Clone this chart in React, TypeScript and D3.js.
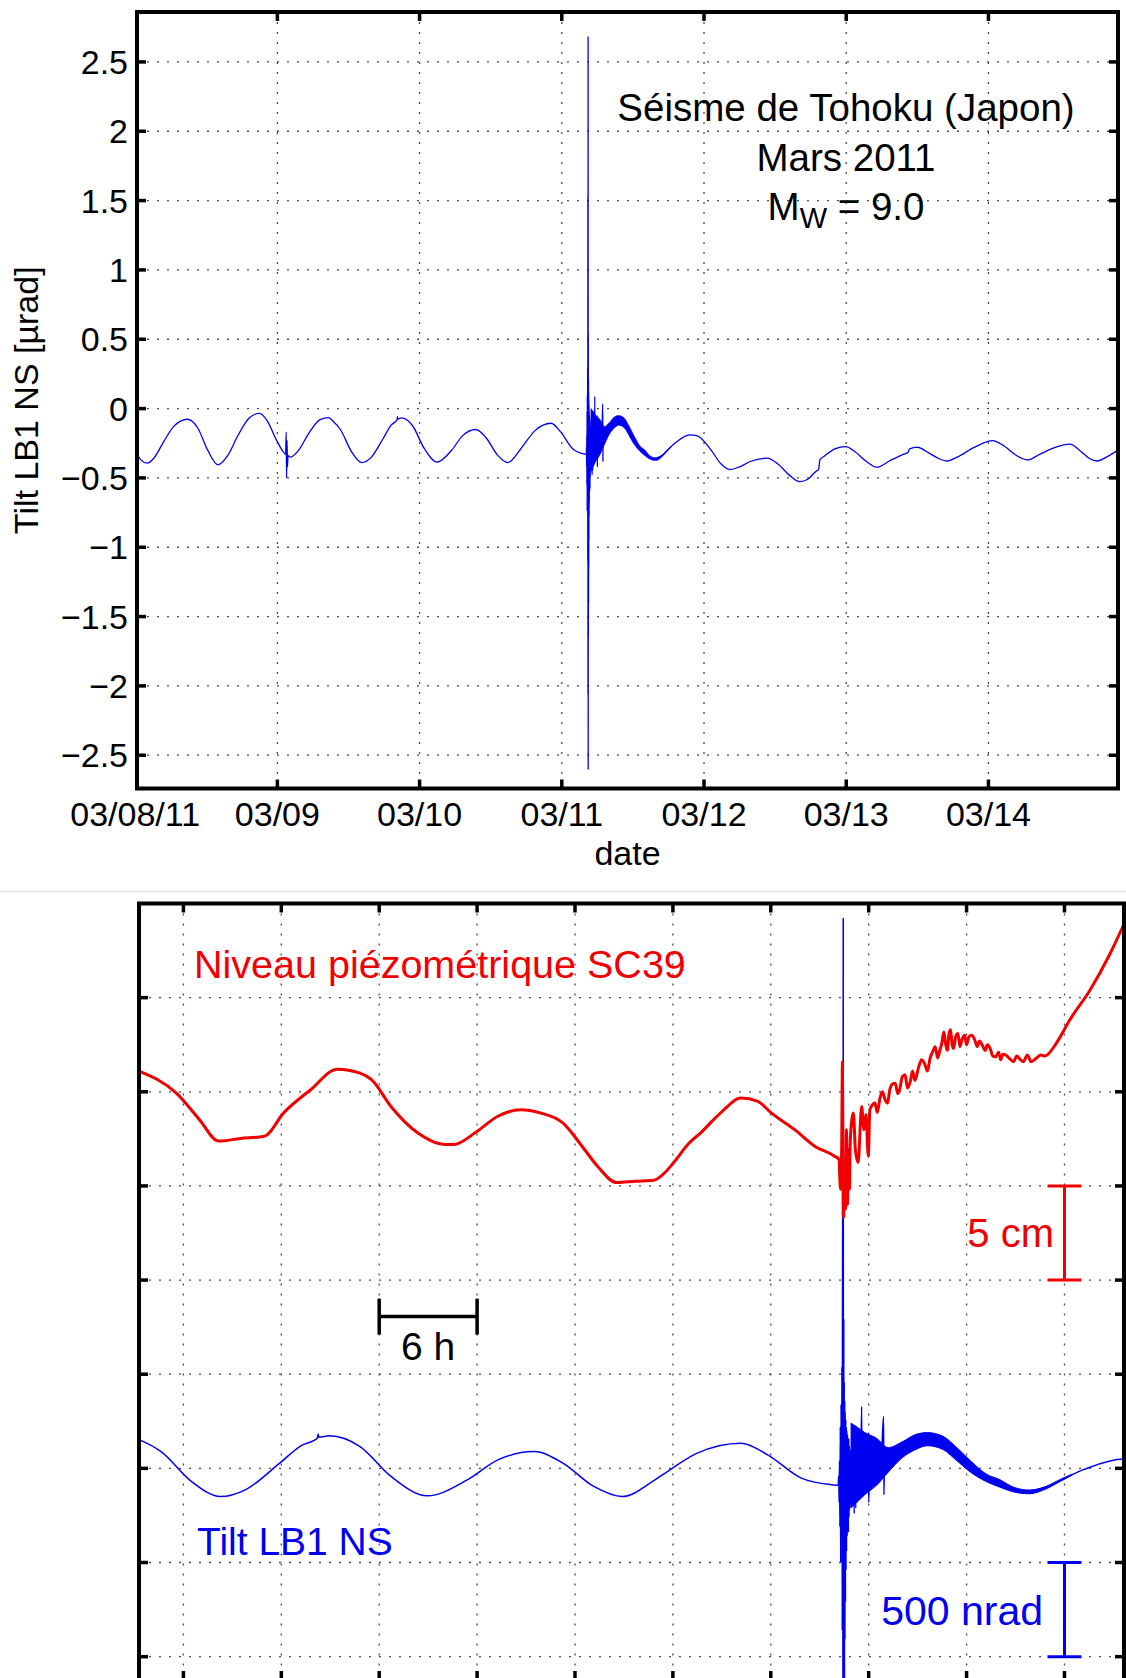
import React from 'react';
import * as d3 from 'd3';

const FONT = '"Liberation Sans", Arial, Helvetica, sans-serif';

// ---------- TOP PANEL: axes ----------
// time in days since 03/08/2011 00:00
const dayTicks = [0, 1, 2, 3, 4, 5, 6];
const dayLabels = ['03/08/11', '03/09', '03/10', '03/11', '03/12', '03/13', '03/14'];
const tiltTicks = [-2.5, -2, -1.5, -1, -0.5, 0, 0.5, 1, 1.5, 2, 2.5];
const tiltTickLabels = ['\u22122.5', '\u22122', '\u22121.5', '\u22121', '\u22120.5', '0', '0.5', '1', '1.5', '2', '2.5'];

// ---------- Tilt LB1 NS (µrad) : [day, value] ----------
const tideBefore: [number, number][] = [
  [0.013, -0.33], [0.04, -0.37], [0.085, -0.394], [0.13, -0.36], [0.2, -0.24], [0.27, -0.13],
  [0.368, -0.077], [0.44, -0.14], [0.51, -0.3], [0.583, -0.406], [0.65, -0.34], [0.72, -0.2],
  [0.8, -0.07], [0.874, -0.034], [0.93, -0.09], [0.99, -0.22], [1.04, -0.31],
  [1.058, -0.33], [1.062, -0.17], [1.065, -0.5], [1.068, -0.23], [1.071, -0.42], [1.075, -0.34],
  [1.094, -0.35], [1.15, -0.3], [1.22, -0.18], [1.3, -0.08], [1.36, -0.065], [1.39, -0.09],
  [1.443, -0.151], [1.521, -0.31], [1.595, -0.39], [1.658, -0.354], [1.746, -0.212], [1.8, -0.12],
  [1.842, -0.08], [1.844, -0.058], [1.846, -0.075], [1.873, -0.067], [1.951, -0.124], [2.03, -0.283],
  [2.123, -0.386], [2.225, -0.301], [2.303, -0.195], [2.396, -0.151], [2.469, -0.212], [2.548, -0.336],
  [2.621, -0.39], [2.704, -0.301], [2.735, -0.258], [2.812, -0.159], [2.924, -0.106], [2.992, -0.168],
  [3.078, -0.292], [3.155, -0.327], [3.17, -0.33],
];

const quakeBurst: [number, number][] = [
  [3.172, -0.33], [3.1735, -0.28], [3.1745, -0.42], [3.1755, -0.2], [3.1765, -0.55], [3.1775, -0.02],
  [3.1785, -0.74], [3.1795, 0.1], [3.1805, -0.62], [3.1815, 0.3], [3.1825, -1.1], [3.1835, 1.53],
  [3.1842, -2.06], [3.185, 2.68], [3.1857, -2.6], [3.1864, 0.55], [3.187, -1.65], [3.1876, 0.22],
  [3.1882, -1.4], [3.1888, 0.12], [3.1894, -1.15], [3.19, 0.06], [3.1907, -0.95], [3.1914, 0.02],
  [3.1921, -0.78], [3.1928, -0.02], [3.1935, -0.68], [3.1942, -0.04], [3.195, -0.6], [3.1958, -0.06],
  [3.1966, -0.56], [3.1974, -0.1], [3.1982, -0.58], [3.199, -0.08], [3.1998, -0.5], [3.2006, -0.12],
  [3.2015, -0.46], [3.2024, -0.16], [3.2033, -0.44], [3.2042, -0.14], [3.2052, -0.4], [3.2062, -0.18],
  [3.2072, -0.38], [3.2085, -0.2], [3.21, -0.42], [3.2115, -0.1], [3.213, -0.48], [3.215, -0.05],
  [3.217, -0.45], [3.219, -0.08], [3.221, -0.42], [3.223, -0.1], [3.225, -0.38], [3.227, -0.14],
  [3.229, -0.35], [3.232, 0.088], [3.233, -0.36], [3.236, -0.15], [3.239, -0.33], [3.242, -0.18],
  [3.245, -0.32], [3.249, -0.05], [3.25, -0.42], [3.253, -0.18], [3.257, -0.3], [3.262, -0.16],
  [3.267, -0.3], [3.272, -0.17], [3.278, -0.28], [3.283, -0.16], [3.288, 0.035], [3.289, -0.38],
  [3.29, -0.23],
];

const tideAfter: [number, number][] = [
  [3.292, -0.22], [3.335, -0.142], [3.403, -0.089], [3.446, -0.106], [3.506, -0.23], [3.575, -0.31],
  [3.643, -0.363], [3.695, -0.345], [3.797, -0.248], [3.9, -0.19], [3.95, -0.195], [4.05, -0.3],
  [4.12, -0.4], [4.183, -0.44], [4.25, -0.42], [4.33, -0.38], [4.442, -0.358], [4.52, -0.4],
  [4.6, -0.48], [4.674, -0.527], [4.73, -0.51], [4.79, -0.45], [4.805, -0.44], [4.815, -0.37],
  [4.85, -0.34], [4.92, -0.29], [4.997, -0.274], [5.06, -0.31], [5.14, -0.38], [5.217, -0.423],
  [5.3, -0.38], [5.4, -0.33], [5.435, -0.315], [5.445, -0.29], [5.5, -0.279], [5.58, -0.32],
  [5.65, -0.36], [5.707, -0.378], [5.78, -0.35], [5.9, -0.28], [6.03, -0.231], [6.11, -0.27],
  [6.2, -0.34], [6.275, -0.37], [6.36, -0.33], [6.47, -0.28], [6.573, -0.257], [6.64, -0.3],
  [6.71, -0.36], [6.767, -0.378], [6.83, -0.35], [6.911, -0.3],
];

// post-seismic noisy band: [day, low, high] (µrad)
const noiseBand: [number, number, number][] = [
  [3.205, -0.45, 0.0], [3.22, -0.42, -0.02], [3.24, -0.38, -0.05], [3.27, -0.33, -0.08],
  [3.3, -0.26, -0.13], [3.335, -0.185, -0.1], [3.37, -0.14, -0.06], [3.4, -0.12, -0.05],
  [3.44, -0.14, -0.07], [3.47, -0.19, -0.12], [3.51, -0.26, -0.2], [3.55, -0.31, -0.27],
  [3.585, -0.34, -0.3], [3.62, -0.365, -0.34], [3.66, -0.375, -0.355], [3.7, -0.352, -0.338],
  [3.74, -0.308, -0.298], [3.77, -0.275, -0.27],
];

// ---------- Niveau piézométrique SC39 (cm, relative) : [day, cm] ----------
const pressureLevel: [number, number][] = [
  [1.387, 6.1], [1.482, 4.93], [1.541, 3.52], [1.59, 2.38], [1.645, 2.52], [1.707, 2.64],
  [1.756, 3.88], [1.825, 5.11], [1.893, 6.2], [1.951, 5.99], [1.981, 5.63], [2.03, 4.22],
  [2.098, 2.82], [2.167, 2.2], [2.191, 2.2], [2.245, 2.82], [2.303, 3.7], [2.362, 4.05],
  [2.411, 3.88], [2.469, 3.35], [2.518, 2.11], [2.557, 1.06], [2.606, 0.18], [2.655, 0.25],
  [2.701, 0.3], [2.733, 0.78], [2.752, 1.24], [2.792, 2.29], [2.821, 2.82], [2.872, 3.88],
  [2.924, 4.67], [2.967, 4.49], [3.001, 3.88], [3.061, 2.99], [3.112, 2.11], [3.163, 1.58],
  [3.174, 1.41], [3.178, -0.17], [3.181, 1.93], [3.183, 6.6], [3.185, -1.49], [3.186, -1.67],
  [3.188, 0.88], [3.191, -1.23], [3.193, 2.99], [3.196, -0.97], [3.198, 1.93], [3.201, -0.17],
  [3.203, 2.46], [3.211, 3.88], [3.216, 1.93], [3.223, 1.24], [3.232, 4.22], [3.238, 2.99],
  [3.243, 3.79], [3.249, 1.58], [3.253, 4.05], [3.266, 4.4], [3.272, 3.9], [3.279, 4.68],
  [3.285, 5.0], [3.292, 4.57], [3.298, 4.4], [3.304, 5.11], [3.31, 5.4], [3.318, 5.46],
  [3.324, 4.9], [3.33, 5.21], [3.336, 5.8], [3.343, 5.9], [3.349, 5.2], [3.356, 5.53],
  [3.362, 6.1], [3.368, 5.6], [3.378, 6.34], [3.385, 6.7], [3.394, 6.43], [3.4, 6.1],
  [3.407, 6.8], [3.413, 7.1], [3.42, 7.39], [3.426, 6.8], [3.432, 7.22], [3.437, 7.6],
  [3.442, 8.18], [3.447, 7.48], [3.451, 7.2], [3.455, 8.06], [3.459, 8.3], [3.463, 7.53],
  [3.467, 7.3], [3.472, 7.92], [3.478, 8.1], [3.483, 7.4], [3.488, 7.75], [3.495, 8.0],
  [3.5, 7.5], [3.506, 7.92], [3.513, 8.0], [3.521, 7.75], [3.527, 7.4], [3.533, 7.7],
  [3.54, 7.48], [3.548, 7.2], [3.553, 7.5], [3.56, 7.32], [3.567, 6.9], [3.574, 6.86],
  [3.582, 7.1], [3.587, 6.7], [3.593, 7.0], [3.6, 6.95], [3.609, 6.78], [3.62, 6.6],
  [3.628, 6.9], [3.636, 6.74], [3.645, 6.6], [3.655, 6.95], [3.665, 6.6], [3.678, 6.78],
  [3.69, 6.95], [3.7, 6.9], [3.729, 7.57], [3.763, 8.8], [3.815, 10.39], [3.866, 12.32],
  [3.902, 13.91],
];

// ---------- BOTTOM PANEL: grid ----------
const sixHourTicks = [1.5, 1.75, 2, 2.25, 2.5, 2.75, 3, 3.25, 3.5, 3.75];
const bottomGridUnits = [-1, -0.5, 0, 0.5, 1, 1.5, 2, 2.5];
const TILT_SHIFT = 0.24; // µrad offset of tilt trace in lower panel
const CM_PER_UNIT = 10; // 5 cm per grid step of 0.5
const LEVEL_SHIFT = 1.5;
const timeBar = [2.0, 2.25]; // 6 h
const timeBarUnit = 0.806;
const levelBar = [0, -5]; // 5 cm
const tiltBar = [-1.24, -0.74]; // 500 nrad
const barTime = 3.75;

const BLUE = '#0000f0';
const RED = '#f00000';

export default function App() {
  // top panel scales
  const xTop = d3.scaleLinear().domain([0.013, 6.911]).range([137, 1118]);
  const yTop = d3.scaleLinear().domain([-2.74, 2.86]).range([788.5, 12]);
  // bottom panel scales
  const xBot = d3.scaleLinear().domain([1.3866, 3.902]).range([139, 1124]);
  const yBot = d3.scaleLinear().domain([-1.124, 3.0]).range([1680, 903.5]);
  const yTiltB = (v: number) => yBot(v + TILT_SHIFT);
  const yLevel = (cm: number) => yBot(cm / CM_PER_UNIT + LEVEL_SHIFT);

  const tilt = d3.sort([...tideBefore, ...quakeBurst, ...tideAfter], d => d[0]);
  const level = d3.sort(pressureLevel, d => d[0]);

  const lineTop = d3.line<[number, number]>().x(d => xTop(d[0])).y(d => yTop(d[1])).curve(d3.curveMonotoneX);
  const areaTop = d3.area<[number, number, number]>().x(d => xTop(d[0])).y0(d => yTop(d[1])).y1(d => yTop(d[2])).curve(d3.curveMonotoneX);
  const lineBotTilt = d3.line<[number, number]>().x(d => xBot(d[0])).y(d => yTiltB(d[1])).curve(d3.curveMonotoneX);
  const areaBot = d3.area<[number, number, number]>().x(d => xBot(d[0])).y0(d => yTiltB(d[1])).y1(d => yTiltB(d[2])).curve(d3.curveMonotoneX);
  const lineLevel = d3.line<[number, number]>().x(d => xBot(d[0])).y(d => yLevel(d[1])).curve(d3.curveMonotoneX);

  const tX0 = xTop.range()[0], tX1 = xTop.range()[1];
  const tY0 = yTop.range()[1], tY1 = yTop.range()[0];
  const bX0 = xBot.range()[0], bX1 = xBot.range()[1];
  const bY0 = yBot.range()[1], bY1 = yBot.range()[0];

  const grid = { stroke: '#4a4a4a', strokeWidth: 1.3, strokeDasharray: '2,8' };
  const tickW = 3.5, tickL = 9;
  const tb = yBot(timeBarUnit);

  return (
    <>
      <style>{`body{margin:0;background:#fff}`}</style>
      <svg width={1126} height={1678} style={{ position: 'absolute', left: 0, top: 0, background: '#fff' }} fontFamily={FONT}>
        <defs>
          <clipPath id="clipTop"><rect x={tX0} y={tY0} width={tX1 - tX0} height={tY1 - tY0} /></clipPath>
          <clipPath id="clipBot"><rect x={bX0} y={bY0} width={bX1 - bX0} height={bY1 - bY0} /></clipPath>
        </defs>
        <rect x={0} y={0} width={1126} height={1678} fill="#fff" />

        {/* ===== TOP PANEL ===== */}
        {dayTicks.filter(d => d > 0).map(d => (
          <line key={'gv' + d} x1={xTop(d)} x2={xTop(d)} y1={tY0} y2={tY1} {...grid} />
        ))}
        {tiltTicks.map(v => (
          <line key={'gh' + v} x1={tX0} x2={tX1} y1={yTop(v)} y2={yTop(v)} {...grid} />
        ))}
        <g clipPath="url(#clipTop)">
          <path d={areaTop(noiseBand) || ''} fill={BLUE} stroke={BLUE} strokeWidth={0.6} />
          <path d={lineTop(tilt) || ''} fill="none" stroke={BLUE} strokeWidth={1.3} strokeLinejoin="round" />
        </g>
        <rect x={tX0} y={tY0} width={tX1 - tX0} height={tY1 - tY0} fill="none" stroke="#000" strokeWidth={4} />
        {dayTicks.filter(d => d > 0).map(d => (
          <g key={'tk' + d}>
            <line x1={xTop(d)} x2={xTop(d)} y1={tY0} y2={tY0 + tickL} stroke="#000" strokeWidth={tickW} />
            <line x1={xTop(d)} x2={xTop(d)} y1={tY1} y2={tY1 - tickL} stroke="#000" strokeWidth={tickW} />
          </g>
        ))}
        {tiltTicks.map(v => (
          <g key={'ty' + v}>
            <line x1={tX0} x2={tX0 + tickL} y1={yTop(v)} y2={yTop(v)} stroke="#000" strokeWidth={tickW} />
            <line x1={tX1} x2={tX1 - tickL} y1={yTop(v)} y2={yTop(v)} stroke="#000" strokeWidth={tickW} />
          </g>
        ))}
        {tiltTicks.map((v, i) => (
          <text key={'yl' + v} x={tX0 - 9} y={yTop(v)} dy="0.36em" textAnchor="end" fontSize={34} fill="#000">{tiltTickLabels[i]}</text>
        ))}
        {dayTicks.map((d, i) => (
          <text key={'xl' + d} x={xTop(d)} y={826} textAnchor="middle" fontSize={34} fill="#000">{dayLabels[i]}</text>
        ))}
        <text x={(tX0 + tX1) / 2} y={865} textAnchor="middle" fontSize={34} fill="#000">date</text>
        <text transform={`translate(38,${(tY0 + tY1) / 2}) rotate(-90)`} textAnchor="middle" fontSize={34} fill="#000">Tilt LB1 NS [µrad]</text>

        <text x={846} y={121} textAnchor="middle" fontSize={38.5} fill="#000">Séisme de Tohoku (Japon)</text>
        <text x={846} y={171} textAnchor="middle" fontSize={38.5} fill="#000">Mars 2011</text>
        <text x={846} y={220} textAnchor="middle" fontSize={38.5} fill="#000">
          <tspan>M</tspan>
          <tspan fontSize={29} dy={8}>W</tspan>
          <tspan dy={-8}> = 9.0</tspan>
        </text>

        {/* separator */}
        <line x1={0} x2={1126} y1={891.5} y2={891.5} stroke="#e3e3e3" strokeWidth={1.5} />

        {/* ===== BOTTOM PANEL ===== */}
        {sixHourTicks.map(t => (
          <line key={'bgv' + t} x1={xBot(t)} x2={xBot(t)} y1={bY0} y2={bY1} {...grid} />
        ))}
        {bottomGridUnits.map(u => (
          <line key={'bgh' + u} x1={bX0} x2={bX1} y1={yBot(u)} y2={yBot(u)} {...grid} />
        ))}
        <g clipPath="url(#clipBot)">
          <path d={areaBot(noiseBand) || ''} fill={BLUE} stroke={BLUE} strokeWidth={1} />
          <path d={lineBotTilt(tilt) || ''} fill="none" stroke={BLUE} strokeWidth={1.5} strokeLinejoin="round" />
          <path d={lineLevel(level) || ''} fill="none" stroke={RED} strokeWidth={3} strokeLinejoin="round" />
        </g>
        <rect x={bX0} y={bY0} width={bX1 - bX0} height={bY1 - bY0} fill="none" stroke="#000" strokeWidth={4} />
        {sixHourTicks.map(t => (
          <g key={'btk' + t}>
            <line x1={xBot(t)} x2={xBot(t)} y1={bY0} y2={bY0 + tickL} stroke="#000" strokeWidth={tickW} />
            <line x1={xBot(t)} x2={xBot(t)} y1={bY1} y2={bY1 - tickL} stroke="#000" strokeWidth={tickW} />
          </g>
        ))}
        {bottomGridUnits.map(u => (
          <g key={'bty' + u}>
            <line x1={bX0} x2={bX0 + tickL} y1={yBot(u)} y2={yBot(u)} stroke="#000" strokeWidth={tickW} />
            <line x1={bX1} x2={bX1 - tickL} y1={yBot(u)} y2={yBot(u)} stroke="#000" strokeWidth={tickW} />
          </g>
        ))}

        <text x={194} y={978} fontSize={39.5} fill={RED}>Niveau piézométrique SC39</text>
        <text x={197} y={1555} fontSize={39} fill={BLUE}>Tilt LB1 NS</text>

        {/* 6 h bar */}
        <g stroke="#000" strokeWidth={3.5}>
          <line x1={xBot(timeBar[0])} x2={xBot(timeBar[1])} y1={tb} y2={tb} />
          <line x1={xBot(timeBar[0])} x2={xBot(timeBar[0])} y1={tb - 18} y2={tb + 18} />
          <line x1={xBot(timeBar[1])} x2={xBot(timeBar[1])} y1={tb - 18} y2={tb + 18} />
        </g>
        <text x={(xBot(timeBar[0]) + xBot(timeBar[1])) / 2} y={1360} textAnchor="middle" fontSize={39} fill="#000">6 h</text>

        {/* 5 cm bar */}
        <g stroke={RED} strokeWidth={3}>
          <line x1={xBot(barTime)} x2={xBot(barTime)} y1={yLevel(levelBar[0])} y2={yLevel(levelBar[1])} />
          <line x1={xBot(barTime) - 17} x2={xBot(barTime) + 17} y1={yLevel(levelBar[0])} y2={yLevel(levelBar[0])} />
          <line x1={xBot(barTime) - 17} x2={xBot(barTime) + 17} y1={yLevel(levelBar[1])} y2={yLevel(levelBar[1])} />
        </g>
        <text x={1054} y={1247} textAnchor="end" fontSize={40} fill={RED}>5 cm</text>

        {/* 500 nrad bar */}
        <g stroke={BLUE} strokeWidth={3}>
          <line x1={xBot(barTime)} x2={xBot(barTime)} y1={yTiltB(tiltBar[0])} y2={yTiltB(tiltBar[1])} />
          <line x1={xBot(barTime) - 17} x2={xBot(barTime) + 17} y1={yTiltB(tiltBar[0])} y2={yTiltB(tiltBar[0])} />
          <line x1={xBot(barTime) - 17} x2={xBot(barTime) + 17} y1={yTiltB(tiltBar[1])} y2={yTiltB(tiltBar[1])} />
        </g>
        <text x={1043} y={1625} textAnchor="end" fontSize={41} fill={BLUE}>500 nrad</text>
      </svg>
    </>
  );
}
